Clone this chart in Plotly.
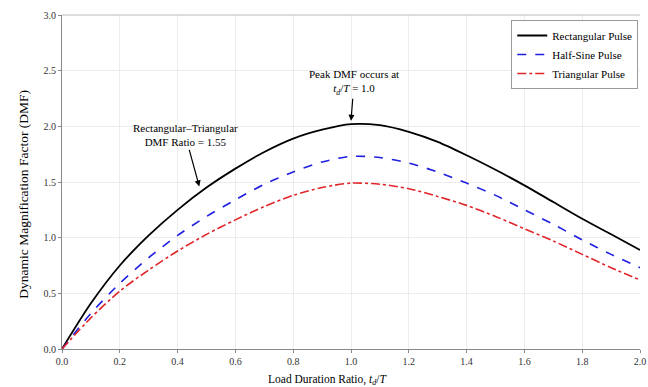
import plotly.graph_objects as go

ratio = [0.0, 0.1, 0.2, 0.3, 0.4, 0.5, 0.6, 0.7, 0.8, 0.9, 1.0,
         1.1, 1.2, 1.3, 1.4, 1.5, 1.6, 1.7, 1.8, 1.9, 2.0]
rect_dmf = [0.0, 0.41, 0.75, 1.02, 1.25, 1.45, 1.62, 1.77, 1.89, 1.97, 2.02,
            2.01, 1.95, 1.86, 1.74, 1.61, 1.47, 1.32, 1.17, 1.03, 0.89]
halfsine_dmf = [0.0, 0.32, 0.59, 0.82, 1.02, 1.19, 1.34, 1.48, 1.59, 1.68, 1.73,
                1.72, 1.67, 1.59, 1.49, 1.38, 1.25, 1.12, 0.98, 0.85, 0.73]
tri_dmf = [0.0, 0.28, 0.52, 0.71, 0.88, 1.03, 1.16, 1.28, 1.38, 1.45, 1.49,
           1.48, 1.44, 1.37, 1.29, 1.19, 1.08, 0.97, 0.85, 0.73, 0.62]

x_ticks = [0.0, 0.2, 0.4, 0.6, 0.8, 1.0, 1.2, 1.4, 1.6, 1.8, 2.0]
y_ticks = [0.0, 0.5, 1.0, 1.5, 2.0, 2.5, 3.0]

FONT = "'Liberation Serif', 'Times New Roman', Times, serif"

fig = go.Figure()
fig.add_trace(go.Scatter(x=ratio, y=rect_dmf, mode="lines", name="Rectangular Pulse",
                         line=dict(color="black", width=1.8, shape="spline", smoothing=0.8)))
fig.add_trace(go.Scatter(x=ratio, y=halfsine_dmf, mode="lines", name="Half-Sine Pulse",
                         line=dict(color="#1f1fe0", width=1.6, dash="dash", shape="spline", smoothing=0.8)))
fig.add_trace(go.Scatter(x=ratio, y=tri_dmf, mode="lines", name="Triangular Pulse",
                         line=dict(color="#e0262a", width=1.6, dash="dashdot", shape="spline", smoothing=0.8)))

fig.add_annotation(x=1.0, y=2.05, xref="x", yref="y",
                   text="Peak DMF occurs at<br><i>t<sub>d</sub></i>/<i>T</i> = 1.0",
                   showarrow=True, arrowhead=2, arrowsize=1, arrowwidth=1.2, arrowcolor="black",
                   ax=3, ay=-38, font=dict(family=FONT, size=11, color="black"))
fig.add_annotation(x=0.475, y=1.46, xref="x", yref="y",
                   text="Rectangular\u2013Triangular<br>DMF Ratio = 1.55",
                   showarrow=True, arrowhead=2, arrowsize=1, arrowwidth=1.2, arrowcolor="black",
                   ax=-14, ay=-51, font=dict(family=FONT, size=11, color="black"))

# axis titles
fig.add_annotation(x=0.46, y=-0.093, xref="paper", yref="paper", showarrow=False,
                   text="Load Duration Ratio, <i>t<sub>d</sub></i>/<i>T</i>",
                   xanchor="center", yanchor="middle",
                   font=dict(family=FONT, size=11.5, color="black"))
fig.add_annotation(x=-0.068, y=0.464, xref="paper", yref="paper", showarrow=False,
                   text="Dynamic Magnification Factor (DMF)", textangle=-90,
                   xanchor="center", yanchor="middle",
                   font=dict(family=FONT, size=13.5, color="black"))

fig.update_layout(
    width=648, height=387,
    margin=dict(l=62, r=8, t=15, b=38),
    paper_bgcolor="white", plot_bgcolor="white",
    font=dict(family=FONT, size=10, color="#222"),
    showlegend=True,
    legend=dict(x=0.997, y=0.985, xanchor="right", yanchor="top",
                bgcolor="white", bordercolor="#999", borderwidth=1,
                font=dict(family=FONT, size=11, color="black"),
                tracegroupgap=0, itemwidth=30),
    xaxis=dict(range=[0, 2.0], tickvals=x_ticks, ticktext=[f"{v:.1f}" for v in x_ticks],
               showgrid=True, gridcolor="#ececec", gridwidth=1,
               showline=True, linecolor="#888", linewidth=1,
               ticks="outside", ticklen=3, tickcolor="#888",
               zeroline=False, automargin=False, ticklabeloverflow="allow",
               tickfont=dict(family=FONT, size=10, color="#333")),
    yaxis=dict(range=[0, 3.0], tickvals=y_ticks, ticktext=[f"{v:.1f}" for v in y_ticks],
               showgrid=True, gridcolor="#ececec", gridwidth=1,
               showline=True, linecolor="#888", linewidth=1,
               ticks="outside", ticklen=3, tickcolor="#888",
               zeroline=False, automargin=False,
               tickfont=dict(family=FONT, size=10, color="#333")),
)
fig.add_shape(type="line", xref="paper", yref="paper", x0=0, x1=1, y0=1, y1=1,
              line=dict(color="#bbb", width=1))

fig.write_html("out.html")
